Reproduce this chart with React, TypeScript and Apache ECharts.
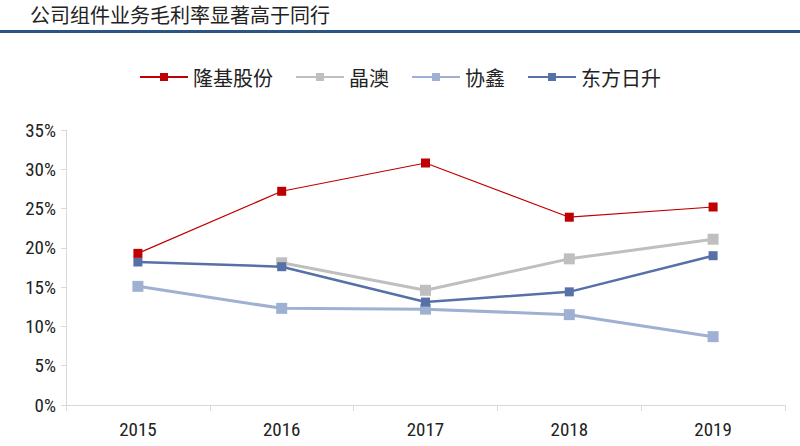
import React, { useEffect, useRef } from "react";
import * as echarts from "echarts";

const years = ["2015", "2016", "2017", "2018", "2019"];
const longi = [19.3, 27.2, 30.8, 23.9, 25.2];
const jaSolar = [null, 18.1, 14.6, 18.6, 21.1];
const gcl = [15.1, 12.3, 12.2, 11.5, 8.7];
const risen = [18.2, 17.6, 13.1, 14.4, 19.0];
const seriesNames = ["隆基股份", "晶澳", "协鑫", "东方日升"];
const titleText = "公司组件业务毛利率显著高于同行";

export default function App() {
  const ref = useRef<HTMLDivElement>(null);
  useEffect(() => {
    document.body.style.margin = "0";
    const chart = echarts.init(ref.current!, null, { renderer: "svg" });
    const font = "'Liberation Sans Narrow', 'Roboto Condensed', 'Liberation Sans', sans-serif";
    const cjk = "'Noto Sans CJK SC', sans-serif";
    const colors = ["#C00000", "#BFBFBF", "#9FB1D2", "#5670A8"];
    const datas = [longi, jaSolar, gcl, risen];
    const widths = [1.2, 3, 3, 2.5];
    const sizes = [9, 11, 11, 9];
    chart.setOption({
      animation: false,
      backgroundColor: "#fff",
      graphic: [
        {
          type: "text",
          left: 30,
          top: 4,
          style: { text: titleText, fontSize: 20, fontFamily: cjk, fill: "#222" },
        },
        {
          type: "rect",
          shape: { x: 0, y: 30, width: 800, height: 3 },
          style: { fill: "#2B5582" },
        },
      ],
      legend: {
        top: 62,
        left: "center",
        itemWidth: 48,
        itemHeight: 10,
        itemGap: 22,
        textStyle: { fontSize: 20, fontFamily: cjk, color: "#222" },
        data: seriesNames,
      },
      grid: { left: 66, right: 15, top: 130, bottom: 41 },
      xAxis: {
        type: "category",
        data: years,
        boundaryGap: true,
        axisLine: { lineStyle: { color: "#D9D9D9", width: 1 } },
        axisTick: { show: true, length: 6, lineStyle: { color: "#D9D9D9" } },
        axisLabel: { fontSize: 19, fontFamily: font, color: "#222", margin: 15 },
      },
      yAxis: {
        type: "value",
        min: 0,
        max: 35,
        interval: 5,
        splitLine: { show: false },
        axisLine: { show: true, lineStyle: { color: "#D9D9D9", width: 1 } },
        axisTick: { show: true, length: 5, lineStyle: { color: "#D9D9D9" } },
        axisLabel: { formatter: "{value}%", fontSize: 19, fontFamily: font, color: "#222", margin: 10 },
      },
      series: seriesNames.map((name, i) => ({
        name,
        type: "line",
        data: datas[i],
        symbol: "rect",
        symbolSize: sizes[i],
        showSymbol: true,
        connectNulls: false,
        itemStyle: { color: colors[i] },
        lineStyle: { color: colors[i], width: widths[i] },
        z: i === 0 ? 5 : i === 3 ? 4 : 3,
      })),
    });
    return () => chart.dispose();
  }, []);
  return <div ref={ref} style={{ width: 800, height: 446 }} />;
}
